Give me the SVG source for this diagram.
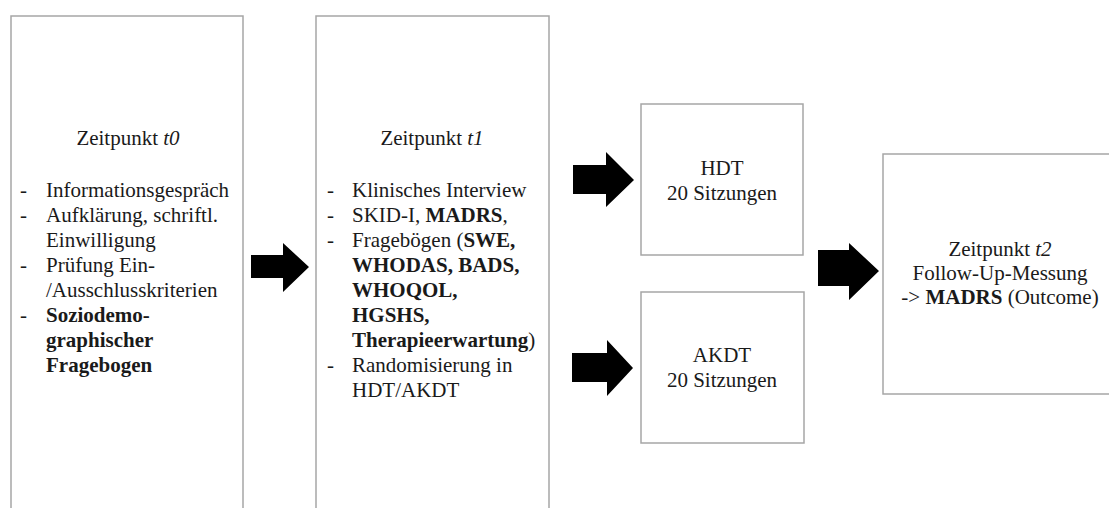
<svg xmlns="http://www.w3.org/2000/svg" width="1109" height="508" viewBox="0 0 1109 508">
<style>
.box{fill:#fff;stroke:#a6a6a6;stroke-width:1.5}
text{font-family:"Liberation Serif","Times New Roman",serif;font-size:21px;fill:#1a1a1a}
.c{text-anchor:middle}
.b{font-weight:bold}
.i{font-style:italic}
.arrow{fill:#000}
</style>
<rect width="1109" height="508" fill="#fff"/>
<g id="t0">
<rect class="box" x="11" y="16" width="232" height="510"/>
<text class="c" x="128" y="145">Zeitpunkt <tspan class="i">t0</tspan></text>
<text x="20" y="197">-</text><text x="46" y="197">Informationsgespräch</text>
<text x="20" y="222">-</text><text x="46" y="222">Aufklärung, schriftl.</text>
<text x="46" y="247">Einwilligung</text>
<text x="20" y="272">-</text><text x="46" y="272">Prüfung Ein-</text>
<text x="46" y="297">/Ausschlusskriterien</text>
<text x="20" y="322">-</text><text class="b" x="46" y="322">Soziodemo-</text>
<text class="b" x="46" y="347">graphischer</text>
<text class="b" x="46" y="372">Fragebogen</text>
</g>
<g id="t1">
<rect class="box" x="316" y="16" width="233" height="510"/>
<text class="c" x="432" y="145">Zeitpunkt <tspan class="i">t1</tspan></text>
<text x="327" y="197">-</text><text x="352" y="197">Klinisches Interview</text>
<text x="327" y="222">-</text><text x="352" y="222">SKID-I, <tspan class="b">MADRS</tspan>,</text>
<text x="327" y="247">-</text><text x="352" y="247">Fragebögen (<tspan class="b">SWE,</tspan></text>
<text class="b" x="352" y="272">WHODAS, BADS,</text>
<text class="b" x="352" y="297">WHOQOL,</text>
<text class="b" x="352" y="322">HGSHS,</text>
<text x="352" y="347"><tspan class="b">Therapieerwartung</tspan>)</text>
<text x="327" y="372">-</text><text x="352" y="372">Randomisierung in</text>
<text x="352" y="397">HDT/AKDT</text>
</g>
<g id="hdt">
<rect class="box" x="641" y="104" width="162" height="151"/>
<text class="c" x="722" y="175">HDT</text>
<text class="c" x="722" y="200">20 Sitzungen</text>
</g>
<g id="akdt">
<rect class="box" x="641" y="292" width="163" height="151"/>
<text class="c" x="722" y="362">AKDT</text>
<text class="c" x="722" y="387">20 Sitzungen</text>
</g>
<g id="t2">
<rect class="box" x="883" y="154" width="240" height="240"/>
<text class="c" x="1000" y="256">Zeitpunkt <tspan class="i">t2</tspan></text>
<text class="c" x="1000" y="280">Follow-Up-Messung</text>
<text class="c" x="1000" y="304">-&gt; <tspan class="b">MADRS</tspan> (Outcome)</text>
</g>
<g id="connectors">
<polygon class="arrow" points="251,255 283,255 283,243 309,267 283,292 283,278 251,278"/>
<polygon class="arrow" points="573,165 606,165 606,152 634,180 606,207 606,194 573,194"/>
<polygon class="arrow" points="572,353 607,353 607,340 633,368 607,396 607,382 572,382"/>
<polygon class="arrow" points="818,250 849,250 849,243 879,271 849,300 849,286 818,286"/>
</g>
</svg>
